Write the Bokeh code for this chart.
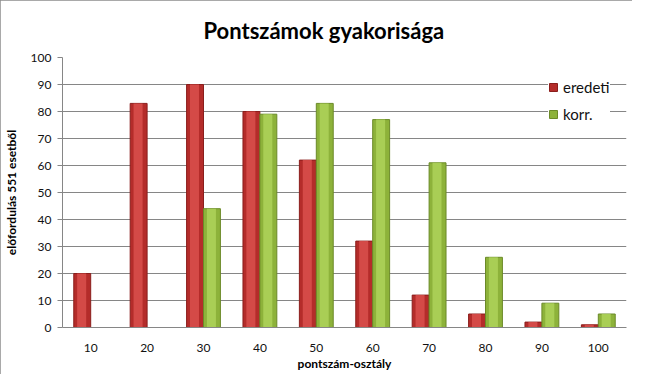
from bokeh.plotting import figure
from bokeh.models import FactorRange, Range1d, FixedTicker, ColumnDataSource, Legend, LegendItem
from bokeh.transform import dodge
from bokeh.embed import file_html
from bokeh.resources import INLINE

categories = ["10", "20", "30", "40", "50", "60", "70", "80", "90", "100"]
eredeti = [20, 83, 90, 80, 62, 32, 12, 5, 2, 1]
korr = [0, 0, 44, 79, 83, 77, 61, 26, 9, 5]
y_ticks = [0, 10, 20, 30, 40, 50, 60, 70, 80, 90, 100]
series_names = ["eredeti", "korr."]

src = ColumnDataSource(dict(cat=categories, eredeti=eredeti, korr=korr))

p = figure(x_range=FactorRange(*categories), y_range=Range1d(0, 100),
           width=632, height=374, output_backend="svg", toolbar_location=None,
           min_border_left=61, min_border_right=6, min_border_top=57, min_border_bottom=47,
           title="Pontszámok gyakorisága")
p.x_range.range_padding = 0

p.title.align = "left"
p.title.offset = 141
p.title.standoff = 27
p.title.text_font = "Lato"
p.title.text_font_size = "22px"
p.title.text_font_style = "bold"
p.title.text_color = "#000000"

red_base = p.vbar(x=dodge("cat", -0.15, range=p.x_range), top="eredeti", width=0.3, source=src,
                  fill_color="#B42C2A", line_color="#8A1E1C", line_width=1)
p.vbar(x=dodge("cat", -0.16, range=p.x_range), top="eredeti", width=0.16, source=src,
       fill_color="#D9504C", line_color=None, fill_alpha=0.85)
green_base = p.vbar(x=dodge("cat", 0.15, range=p.x_range), top="korr", width=0.3, source=src,
                    fill_color="#8DB23A", line_color="#6B8A28", line_width=1)
p.vbar(x=dodge("cat", 0.14, range=p.x_range), top="korr", width=0.16, source=src,
       fill_color="#AED25A", line_color=None, fill_alpha=0.85)

p.xgrid.grid_line_color = None
p.ygrid.grid_line_color = "#868686"
p.ygrid.ticker = FixedTicker(ticks=y_ticks)
p.outline_line_color = None

p.yaxis.ticker = FixedTicker(ticks=y_ticks)
p.yaxis.axis_line_color = "#868686"
p.yaxis.major_tick_line_color = "#868686"
p.yaxis.major_tick_out = 5
p.yaxis.major_tick_in = 0
p.yaxis.minor_tick_line_color = None
p.yaxis.major_label_standoff = 6
p.yaxis.axis_label = "előfordulás 551 esetből"
p.yaxis.axis_label_standoff = 9

p.xaxis.axis_line_color = "#868686"
p.xaxis.major_tick_line_color = None
p.xaxis.major_tick_out = 0
p.xaxis.major_label_standoff = 16
p.xaxis.axis_label = "pontszám-osztály"
p.xaxis.axis_label_standoff = 1

for ax in (p.xaxis[0], p.yaxis[0]):
    ax.major_label_text_font = "Lato"
    ax.major_label_text_font_size = "12px"
    ax.major_label_text_color = "#111111"
    ax.axis_label_text_font = "Lato"
    ax.axis_label_text_font_size = "12px"
    ax.axis_label_text_font_style = "bold"
    ax.axis_label_text_color = "#000000"

legend = Legend(items=[LegendItem(label=series_names[0], renderers=[red_base]),
                       LegendItem(label=series_names[1], renderers=[green_base])],
                location=(486, 203))
legend.border_line_color = None
legend.background_fill_color = "white"
legend.background_fill_alpha = 1
legend.glyph_width = 10
legend.glyph_height = 10
legend.label_height = 20
legend.spacing = 7
legend.padding = 10
legend.label_standoff = 5
legend.label_text_font = "Lato"
legend.label_text_font_size = "15px"
legend.label_text_color = "#111111"
p.add_layout(legend, "center")

p.background_fill_color = "white"
p.border_fill_color = "white"
p.styles = {"outline": "1px solid #8c8c8c", "outline-offset": "-1px"}

open("out.html", "w").write(file_html(p, INLINE))
